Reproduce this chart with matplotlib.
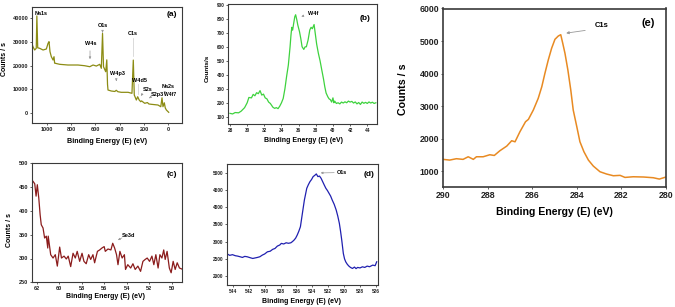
import numpy as np
import matplotlib
matplotlib.use('Agg')
import matplotlib.pyplot as plt

plt.rcParams['font.family'] = ['Liberation Sans', 'DejaVu Sans']
plt.rcParams['font.weight'] = 'bold'

#-- (a) survey spectrum
a_be = [1120, 1113, 1099, 1086, 1081, 1074, 1058, 1030, 1003, 989, 981, 973, 962, 948,
        940, 935, 929, 893, 825, 743, 688, 646, 619, 592, 564, 551, 541, 533, 515, 506,
        500, 496, 469, 440, 428, 415, 387, 331, 299, 288, 280, 263, 252, 240, 227, 220,
        194, 172, 160, 140, 85, 62, 52, 44, 33, 25, 16, -3]
a_cnt = [29000, 27960, 26570, 27290, 41000, 27500, 27290, 26570, 27000, 29400, 30100,
         25850, 23730, 22330, 23730, 21000, 20930, 20500, 20210, 20210, 19910, 19490,
         20210, 19770, 20500, 18800, 33600, 19490, 17370, 22400, 12000, 9620, 9190, 9000,
         9500, 8900, 8640, 8640, 8220, 22300, 7500, 5380, 6780, 5400, 4660, 5000, 3980,
         4300, 3700, 3560, 3260, 2540, 6300, 2540, 4200, 2000, 1140, 170]

#-- (b) W4f
b_be = [28.0, 28.3, 28.6, 29.0, 29.3, 29.7, 30.0, 30.2, 30.5, 30.7, 30.9, 31.1, 31.3, 31.5,
        31.7, 31.9, 32.1, 32.3, 32.5, 32.7, 33.0, 33.2, 33.4, 33.6, 33.8, 34.0, 34.2, 34.4,
        34.6, 34.8, 35.0, 35.1, 35.2, 35.3, 35.4, 35.55, 35.65, 35.8, 35.9, 36.1, 36.25,
        36.4, 36.6, 36.75, 36.9, 37.1, 37.3, 37.45, 37.6, 37.8, 37.95, 38.1, 38.3, 38.5,
        38.7, 38.9, 39.05, 39.2, 39.4, 39.55, 39.7, 39.85, 40.0, 40.1, 40.2, 40.4, 40.6,
        40.8, 41.0, 41.2, 41.4, 41.6, 41.8, 42.0, 42.2, 42.4, 42.6, 42.8, 43.0, 43.2, 43.4,
        43.6, 43.8, 44.0, 44.2, 44.4, 44.6, 44.8, 45.0]
b_cnt = [124, 120, 130, 128, 140, 165, 200, 238, 235, 260, 250, 272, 265, 287, 255, 262,
         235, 228, 205, 195, 168, 160, 165, 158, 176, 200, 231, 300, 390, 470, 600, 680,
         740, 720, 760, 816, 830, 790, 757, 709, 660, 601, 582, 600, 601, 649, 721, 740,
         730, 760, 690, 620, 554, 500, 434, 370, 314, 270, 243, 228, 222, 205, 235, 200,
         212, 195, 200, 192, 205, 198, 207, 200, 212, 205, 210, 198, 206, 192, 202, 188,
         205, 196, 203, 195, 206, 198, 204, 195, 200]

#-- (c) Se3d
c_be = [62.33, 62.18, 62.06, 61.95, 61.82, 61.7, 61.6, 61.44, 61.3, 61.15, 61.02, 60.98,
        60.76, 60.55, 60.35, 60.17, 59.96, 59.8, 59.57, 59.37, 59.2, 58.98, 58.77, 58.57,
        58.4, 58.18, 57.97, 57.8, 57.6, 57.38, 57.2, 57.0, 56.85, 56.6, 56.4, 56.2, 56.0,
        55.9, 55.66, 55.4, 55.24, 55.07, 54.9, 54.77, 54.6, 54.4, 54.2, 54.1, 53.9, 53.64,
        53.44, 53.24, 53.0, 52.76, 52.55, 52.35, 52.17, 51.96, 51.75, 51.58, 51.4, 51.2,
        51.04, 50.86, 50.7, 50.57, 50.4, 50.2, 50.04, 49.86, 49.68, 49.5, 49.3, 49.1]
c_cnt = [462, 457, 431, 455, 427, 392, 371, 364, 343, 347, 322, 347, 308, 301, 308, 284,
         324, 301, 305, 299, 305, 283, 311, 301, 315, 294, 311, 294, 289, 308, 298, 308,
         291, 315, 318, 322, 325, 315, 320, 318, 332, 322, 308, 287, 315, 301, 308, 277,
         287, 280, 289, 277, 284, 273, 294, 298, 301, 294, 305, 287, 308, 280, 308, 301,
         318, 298, 315, 280, 270, 294, 277, 291, 280, 278]

#-- (d) O1s
d_be = [544.7, 544.4, 544.05, 543.7, 543.4, 543.1, 542.8, 542.5, 542.2, 541.8, 541.5,
        541.2, 540.9, 540.6, 540.3, 540.0, 539.65, 539.3, 539.0, 538.7, 538.4, 538.1,
        537.9, 537.6, 537.3, 537.0, 536.7, 536.5, 536.3, 536.1, 535.9, 535.7, 535.5,
        535.25, 535.0, 534.7, 534.5, 534.3, 534.1, 533.9, 533.7, 533.5, 533.3, 533.1,
        532.9, 532.7, 532.5, 532.3, 532.1, 531.9, 531.7, 531.5, 531.25, 531.0, 530.8,
        530.6, 530.45, 530.3, 530.1, 529.95, 529.8, 529.6, 529.4, 529.2, 528.95, 528.7,
        528.5, 528.3, 528.0, 527.7, 527.4, 527.1, 526.8, 526.4, 526.1, 525.9]
d_cnt = [2640, 2600, 2620, 2590, 2578, 2560, 2540, 2570, 2559, 2530, 2510, 2525, 2540,
         2560, 2607, 2640, 2703, 2720, 2773, 2800, 2869, 2900, 2947, 2930, 2965, 2950,
         2965, 3000, 3043, 3100, 3190, 3300, 3430, 3820, 4206, 4546, 4650, 4738, 4800,
         4884, 4920, 4962, 4884, 4900, 4836, 4738, 4640, 4546, 4480, 4400, 4320, 4206,
         4080, 3915, 3740, 3528, 3300, 3043, 2655, 2500, 2413, 2340, 2288, 2250, 2220,
         2260, 2215, 2250, 2235, 2268, 2250, 2288, 2270, 2317, 2300, 2413]

#-- (e) C1s
e_be = [290.0, 289.7, 289.4, 289.1, 288.87, 288.64, 288.5, 288.2, 287.9, 287.7, 287.45,
        287.14, 286.92, 286.77, 286.55, 286.3, 286.17, 285.95, 285.73, 285.57, 285.43,
        285.28, 285.13, 284.98, 284.83, 284.72, 284.63, 284.53, 284.4, 284.27, 284.16,
        284.0, 283.86, 283.68, 283.48, 283.26, 282.96, 282.66, 282.36, 282.06, 281.84,
        281.47, 281.0, 280.57, 280.3, 280.0]
e_cnt = [1360, 1338, 1380, 1360, 1440, 1360, 1440, 1440, 1502, 1480, 1625, 1769, 1933,
         1900, 2210, 2517, 2590, 2877, 3237, 3594, 4005, 4415, 4775, 5052, 5154, 5194,
         4929, 4620, 4108, 3492, 2877, 2364, 1902, 1594, 1338, 1154, 979, 908, 856, 868,
         805, 825, 817, 795, 754, 817]

W, H = 675, 307
fig = plt.figure(figsize=(W/100, H/100), dpi=100)

def box(l, r, t, b):
    return [l/W, 1-b/H, (r-l)/W, (b-t)/H]

def style(ax, fs, lw=0.8):
    for s in ax.spines.values():
        s.set_linewidth(lw)
        s.set_color('#3a3a3a')
    ax.tick_params(direction='out', length=1.5, width=0.5, pad=1.2, labelsize=fs,
                   colors='#222222')

arw = dict(arrowstyle='-|>', color='#999999', lw=0.5, mutation_scale=3)

#-- panel (a)
ax = fig.add_axes(box(32, 181.7, 7, 123.3))
ax.plot(a_be, a_cnt, color='#8c8c14', lw=0.9)
ax.set_xlim(1121, -110)
ax.set_ylim(-4490, 44790)
ax.set_xticks(np.arange(1000, -1, -200))
ax.set_yticks(np.arange(0, 40001, 10000))
style(ax, 4)
ax.set_xlabel('Binding Energy (E) (eV)', fontsize=5.1, fontweight='bold', va='center')
ax.xaxis.set_label_coords(0.50, -0.16)
ax.set_ylabel('Counts / s', fontsize=5, fontweight='bold', va='center')
ax.yaxis.set_label_coords(-0.185, 0.55)
lf = dict(fontsize=4, fontweight='bold', ha='center', va='center')
ax.text(1096, 42240, 'Na1s', fontsize=4, fontweight='bold', ha='left', va='center')
ax.text(537, 36740, 'O1s', **lf)
ax.annotate('', xy=(541, 33900), xytext=(541, 35500), arrowprops=arw)
ax.text(636, 29530, 'W4s', **lf)
ax.annotate('', xy=(644, 21500), xytext=(644, 27400), arrowprops=arw)
ax.text(290, 33770, 'C1s', **lf)
ax.plot([288, 288], [24000, 31650], color='#cccccc', lw=0.5)
ax.text(418, 16820, 'W4p3', **lf)
ax.annotate('', xy=(428, 13400), xytext=(428, 15100), arrowprops=arw)
ax.text(241, 13850, 'W4d5', **lf)
ax.plot([252, 252], [8000, 12200], color='#cccccc', lw=0.5)
ax.text(171, 10040, 'S2s', **lf)
ax.annotate('', xy=(241, 6230), xytext=(200, 8770), arrowprops=arw)
ax.text(93, 7920, 'S2p3', **lf)
ax.annotate('', xy=(175, 5380), xytext=(134, 7080), arrowprops=arw)
ax.text(-2, 11310, 'Na2s', **lf)
ax.annotate('', xy=(35, 7920), xytext=(19, 10040), arrowprops=arw)
ax.text(-14, 7920, 'W4f7', fontsize=3.6, fontweight='bold', ha='center', va='center')
ax.text(0.936, 0.939, '(a)', transform=ax.transAxes, fontsize=6, fontweight='bold',
        ha='center', va='center')

#-- panel (b)
ax = fig.add_axes(box(228.3, 376.7, 4, 124))
ax.plot(b_be, b_cnt, color='#3ed23e', lw=0.9)
ax.set_xlim(27.8, 45.1)
ax.set_ylim(48, 907)
ax.set_xticks(np.arange(28, 45, 2))
ax.set_yticks(np.arange(100, 901, 100))
style(ax, 3.4)
ax.set_xlabel('Binding Energy (E) (eV)', fontsize=5, fontweight='bold', va='center')
ax.xaxis.set_label_coords((303-228.3)/148.4, (124-140)/120)
ax.set_ylabel('Counts/s', fontsize=4.6, fontweight='bold', va='center')
ax.yaxis.set_label_coords((207-228.3)/148.4, 0.46)
ax.text(37.65, 840, 'W4f', fontsize=4, fontweight='bold', ha='center', va='center')
ax.annotate('', xy=(36.0, 812), xytext=(36.9, 828), arrowprops=arw)
ax.text((365-228.3)/148.4, 1-(19-4)/120, '(b)', transform=ax.transAxes, fontsize=6,
        fontweight='bold', ha='center', va='center')

#-- panel (c)
ax = fig.add_axes(box(31.7, 181.7, 163.3, 282.3))
ax.plot(c_be, c_cnt, color='#8b1c1c', lw=0.9)
ax.set_xlim(62.45, 49.1)
ax.set_ylim(250, 500)
ax.set_xticks(np.arange(62, 49, -2))
ax.set_yticks(np.arange(250, 501, 50))
style(ax, 4)
ax.set_xlabel('Binding Energy (E) (eV)', fontsize=5, fontweight='bold', va='center')
ax.xaxis.set_label_coords((105-31.7)/150, (282.3-296.7)/119)
ax.set_ylabel('Counts / s', fontsize=5, fontweight='bold', va='center')
ax.yaxis.set_label_coords((10-31.7)/150, 0.44)
ax.text(53.84, 349, 'Se3d', fontsize=4, fontweight='bold', ha='center', va='center')
ax.annotate('', xy=(55.0, 336), xytext=(54.2, 346), arrowprops=arw)
ax.text((172-31.7)/150, 1-(174-163.3)/119, '(c)', transform=ax.transAxes, fontsize=6,
        fontweight='bold', ha='center', va='center')

#-- panel (d)
ax = fig.add_axes(box(227.3, 378.3, 164, 285))
ax.plot(d_be, d_cnt, color='#2020b0', lw=0.9)
ax.set_xlim(544.7, 525.7)
ax.set_ylim(1740, 5250)
ax.set_xticks(np.arange(544, 525, -2))
ax.set_yticks(np.arange(2000, 5001, 500))
style(ax, 3.4)
ax.set_xlabel('Binding Energy (E) (eV)', fontsize=5, fontweight='bold', va='center')
ax.xaxis.set_label_coords((301-227.3)/151, (285-301.7)/121)
ax.text(530.25, 5000, 'O1s', fontsize=4, fontweight='bold', ha='center', va='center')
ax.annotate('', xy=(533.3, 4990), xytext=(530.9, 5000), arrowprops=arw)
ax.text((369-227.3)/151, 1-(174-164)/121, '(d)', transform=ax.transAxes, fontsize=6,
        fontweight='bold', ha='center', va='center')

#-- panel (e)
ax = fig.add_axes(box(443, 666, 8.5, 187))
ax.plot(e_be, e_cnt, color='#e88a22', lw=1.1)
ax.set_xlim(290, 280)
ax.set_ylim(510, 6000)
ax.set_xticks(np.arange(290, 279, -2))
ax.set_yticks(np.arange(1000, 6001, 1000))
style(ax, 6.3, lw=1.2)
ax.set_xlabel('Binding Energy (E) (eV)', fontsize=7.6, fontweight='bold', va='center')
ax.xaxis.set_label_coords((554-443)/223, (187-211.7)/178.5)
ax.set_ylabel('Counts / s', fontsize=7.7, fontweight='bold', va='center')
ax.yaxis.set_label_coords((403-443)/223, 0.55)
ax.text(282.87, 5492, 'C1s', fontsize=5.5, fontweight='bold', ha='center', va='center')
ax.annotate('', xy=(284.6, 5230), xytext=(283.5, 5338),
            arrowprops=dict(arrowstyle='-|>', color='#999999', lw=0.6, mutation_scale=4))
ax.text((648-443)/223, 1-(23-8.5)/178.5, '(e)', transform=ax.transAxes, fontsize=8,
        fontweight='bold', ha='center', va='center')

plt.savefig('out.png', dpi=100)
